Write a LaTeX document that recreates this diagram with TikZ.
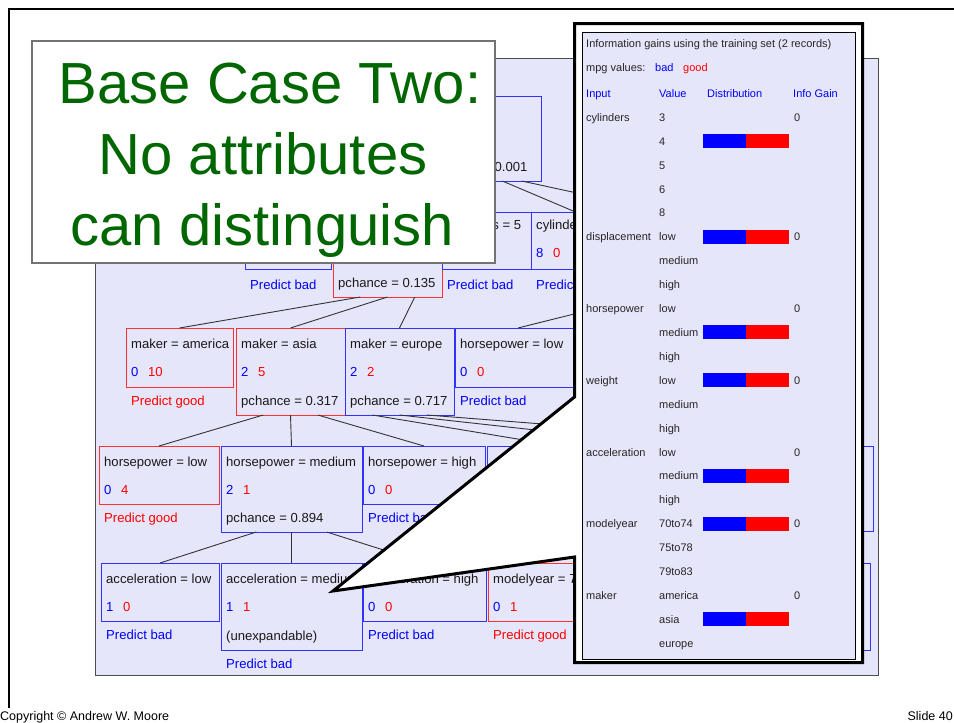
\documentclass[tikz,border=0pt]{standalone}
\usepackage{fontspec}
\setmainfont{Liberation Sans}
\usetikzlibrary{calc}
\definecolor{lav}{RGB}{230,230,250}
\definecolor{bbox}{RGB}{50,50,255}
\definecolor{rbox}{RGB}{255,50,50}
\definecolor{btx}{RGB}{0,0,255}
\definecolor{rtx}{RGB}{255,0,0}
\definecolor{ttl}{RGB}{0,102,0}
\definecolor{dtx}{RGB}{25,25,25}
\tikzset{
  txt/.style={font=\fontsize{13.1}{16}\selectfont, text=dtx, inner sep=0pt, anchor=base west},
  ptxt/.style={font=\fontsize{11}{13}\selectfont, text=black!85, inner sep=0pt, anchor=base west},
  tb/.style={draw=bbox, line width=1pt, anchor=north west, inner sep=0pt, outer sep=0pt},
  tr/.style={draw=rbox, line width=1pt, anchor=north west, inner sep=0pt, outer sep=0pt},
  edge/.style={draw=black!80, line width=0.9pt},
  titletxt/.style={font=\fontsize{58}{60}\selectfont, text=ttl, inner sep=0pt, anchor=base},
  foot/.style={font=\fontsize{12.5}{14}\selectfont, text=black, inner sep=0pt, anchor=base west}
}
\newcommand{\mkbox}[6]{\node[#2, minimum width=#5pt, minimum height=#6pt] (#1) at (#3,#4) {};}
\newcommand{\mktitle}[3][20]{\node[txt] (#2-t) at ($(#2.north west)+(5,#1)$) {#3};}
\newcommand{\mkcnt}[4][48.5]{\node[txt,text=btx] (#2-b) at ($(#2.north west)+(5,#1)$) {#3};\node[txt,text=rtx] (#2-r) at ($(#2.north west)+(22,#1)$) {#4};}
\newcommand{\mkpch}[2]{\node[txt] (#1-p) at ($(#1.south west)+(5,-10)$) {#2};}
\newcommand{\mkpred}[4][18]{\node[txt,text=#3] (#2-d) at ($(#2.south west)+(5,#1)$) {#4};}
\begin{document}
\begin{tikzpicture}[x=1pt,y=-1pt]
\useasboundingbox (0,0) rectangle (954,723);
% slide frame
\draw[line width=2pt] (9,708) -- (9,9) -- (960,9);
% tree panel
\draw[fill=lav, draw=black!70, line width=1pt] (95.5,58.5) rectangle (878.5,675.5);

% ---- level 1
\mkbox{root}{tb}{425}{96}{116}{85}
\mkpch{root}{pchance = 0.001}
% ---- level 2
\mkbox{cA}{tb}{245}{212}{86}{57}
\mkpred[20]{cA}{btx}{Predict bad}
\mkbox{cB}{tr}{333}{212}{109}{85}
\mkpch{cB}{pchance = 0.135}
\mkbox{cC}{tb}{442}{212}{89}{57}
\mktitle[17.5]{cC}{cylinders = 5}
\mkpred[20]{cC}{btx}{Predict bad}
\mkbox{cD}{tb}{531}{212}{89}{57}
\mktitle[17.5]{cD}{cylinders = 6}
\mkcnt[45.5]{cD}{8}{0}
\mkpred[20]{cD}{btx}{Predict bad}
\mkbox{cE}{tb}{620}{212}{89}{85}
% ---- level 3
\mkbox{mAm}{tr}{126}{328}{107}{59}
\mktitle{mAm}{maker = america}
\mkcnt{mAm}{0}{10}
\mkpred{mAm}{rtx}{Predict good}
\mkbox{mAs}{tr}{236}{328}{109}{87}
\mktitle{mAs}{maker = asia}
\mkcnt{mAs}{2}{5}
\mkpch{mAs}{pchance = 0.317}
\mkbox{mEu}{tb}{345}{328}{109}{87}
\mktitle{mEu}{maker = europe}
\mkcnt{mEu}{2}{2}
\mkpch{mEu}{pchance = 0.717}
\mkbox{hL3}{tb}{455}{328}{126}{59}
\mktitle{hL3}{horsepower = low}
\mkcnt{hL3}{0}{0}
\mkpred{hL3}{btx}{Predict bad}
% ---- level 4
\mkbox{hL}{tr}{99}{446}{120}{58}
\mktitle{hL}{horsepower = low}
\mkcnt{hL}{0}{4}
\mkpred{hL}{rtx}{Predict good}
\mkbox{hM}{tb}{221}{446}{141}{86}
\mktitle{hM}{horsepower = medium}
\mkcnt{hM}{2}{1}
\mkpch{hM}{pchance = 0.894}
\mkbox{hH}{tb}{363}{446}{122}{58}
\mktitle{hH}{horsepower = high}
\mkcnt{hH}{0}{0}
\mkpred{hH}{btx}{Predict bad}
\mkbox{eA}{tb}{487}{446}{146}{86}
\mkbox{eB}{tb}{640}{446}{80}{58}
\mkbox{eC}{tb}{780}{446}{93}{85}
% ---- level 5
\mkbox{aL}{tb}{101}{563}{118}{58}
\mktitle{aL}{acceleration = low}
\mkcnt{aL}{1}{0}
\mkpred{aL}{btx}{Predict bad}
\mkbox{aM}{tb}{221}{563}{141}{87}
\mktitle{aM}{acceleration = medium}
\mkcnt{aM}{1}{1}
\mkpch{aM}{(unexpandable)}
\mkpred{aM}{btx}{Predict bad}
\mkbox{aH}{tb}{363}{563}{123}{58}
\mktitle{aH}{acceleration = high}
\mkcnt{aH}{0}{0}
\mkpred{aH}{btx}{Predict bad}
\mkbox{my}{tr}{488}{563}{100}{58}
\mktitle{my}{modelyear = 7}
\mkcnt{my}{0}{1}
\mkpred{my}{rtx}{Predict good}
\mkbox{rC}{tb}{790}{563}{80}{87}

% ---- connectors
\draw[edge] ($(root.south west)!0.1667!(root.south east)$) -- (cA.north);
\draw[edge] ($(root.south west)!0.3333!(root.south east)$) -- (cB.north);
\draw[edge] ($(root.south west)!0.5!(root.south east)$) -- (cC.north);
\draw[edge] ($(root.south west)!0.6667!(root.south east)$) -- (cD.north);
\draw[edge] ($(root.south west)!0.8333!(root.south east)$) -- (cE.north);
\draw[edge] ($(cB.south west)!0.25!(cB.south east)$) -- (mAm.north);
\draw[edge] ($(cB.south west)!0.5!(cB.south east)$) -- (mAs.north);
\draw[edge] ($(cB.south west)!0.75!(cB.south east)$) -- (mEu.north);
\draw[edge] ($(cE.south west)!0.25!(cE.south east)$) -- (hL3.north);
\draw[edge] ($(mAs.south west)!0.25!(mAs.south east)$) -- (hL.north);
\draw[edge] ($(mAs.south west)!0.5!(mAs.south east)$) -- (hM.north);
\draw[edge] ($(mAs.south west)!0.75!(mAs.south east)$) -- (hH.north);
\draw[edge] ($(mEu.south west)!0.25!(mEu.south east)$) -- (eA.north);
\draw[edge] ($(mEu.south west)!0.5!(mEu.south east)$) -- (eB.north);
\draw[edge] ($(mEu.south west)!0.75!(mEu.south east)$) -- (eC.north);
\draw[edge] ($(hM.south west)!0.25!(hM.south east)$) -- (aL.north);
\draw[edge] ($(hM.south west)!0.5!(hM.south east)$) -- (aM.north);
\draw[edge] ($(hM.south west)!0.75!(hM.south east)$) -- (aH.north);
\draw[edge] ($(eA.south west)!0.25!(eA.south east)$) -- (my.north);
\draw[edge] ($(eC.south west)!0.5!(eC.south east)$) -- (rC.north);

% ---- title callout
\node[draw=black!55, fill=white, line width=1.5pt, minimum width=463pt, minimum height=222pt, anchor=north west, inner sep=0pt] (title) at (31,40) {};
\node[titletxt] (t1) at (270,103) {Base Case Two:};
\node[titletxt] (t2) at (263,174) {No attributes};
\node[titletxt] (t3) at (262,245) {can distinguish};

% ---- info callout
\draw[line width=3pt, fill=white, line join=miter] (574.5,23.5) -- (862.5,23.5) -- (862.5,662.5) -- (574.5,662.5) -- (574.5,557) -- (333,591) -- (574.5,397) -- cycle;
\draw[fill=lav, draw=black, line width=1pt] (582.5,32.5) rectangle (855.5,659.5);
\node[ptxt] (ig) at (586,47.3) {Information gains using the training set (2 records)};
\node[ptxt] (mpg) at (586,71.7) {mpg values:};
\node[ptxt,text=btx] (mpgb) at (655,71.7) {bad};
\node[ptxt,text=rtx] (mpgg) at (683,71.7) {good};
\node[ptxt,text=btx] (hin) at (586,97.3) {Input};
\node[ptxt,text=btx] (hval) at (659,97.3) {Value};
\node[ptxt,text=btx] (hdist) at (707,97.3) {Distribution};
\node[ptxt,text=btx] (hgain) at (793,97.3) {Info Gain};
\foreach \i/\n in {0/cylinders,5/displacement,8/horsepower,11/weight,14/acceleration,17/modelyear,20/maker}
  \node[ptxt] (in\i) at (586,{121.3+23.91*\i}) {\n};
\foreach \i/\v in {0/3,1/4,2/5,3/6,4/8,5/low,6/medium,7/high,8/low,9/medium,10/high,11/low,12/medium,13/high,14/low,15/medium,16/high,17/70to74,18/75to78,19/79to83,20/america,21/asia,22/europe}
  \node[ptxt] (v\i) at (659,{121.3+23.91*\i}) {\v};
\foreach \i in {0,5,8,11,14,17,20}
  \node[ptxt] (g\i) at (794,{121.3+23.91*\i}) {0};
\foreach \i in {1,5,9,11,15,17,21}{
  \fill[btx] (703,{117.3+23.91*\i-7}) rectangle (746,{117.3+23.91*\i+7});
  \fill[rtx] (746,{117.3+23.91*\i-7}) rectangle (789,{117.3+23.91*\i+7});
}

% ---- footer
\node[foot] (copy) at (0,720) {Copyright © Andrew W. Moore};
\node[foot, anchor=base east] (slide) at (953,720) {Slide 40};
\end{tikzpicture}
\end{document}
